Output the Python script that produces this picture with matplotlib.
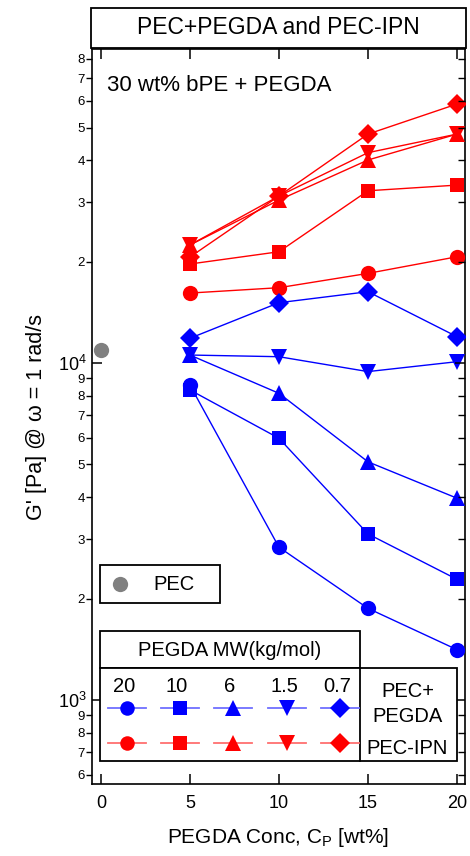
import matplotlib
matplotlib.use('Agg')
import matplotlib.pyplot as plt
from matplotlib import ticker
from matplotlib.lines import Line2D
from matplotlib.patches import Rectangle
import numpy as np

plt.rcParams['font.family'] = ['Liberation Sans', 'DejaVu Sans']
plt.rcParams['mathtext.fontset'] = 'custom'
plt.rcParams['mathtext.rm'] = 'Liberation Sans'
plt.rcParams['mathtext.it'] = 'Liberation Sans:italic'
plt.rcParams['mathtext.bf'] = 'Liberation Sans:bold'

# ---------------- data ----------------
conc = [5, 10, 15, 20]
mw_labels = ['20', '10', '6', '1.5', '0.7']
markers = ['o', 's', '^', 'v', 'D']
marker_sizes = [11, 10, 11.5, 11.5, 10.5]

# PEC+PEGDA (blue), one list per PEGDA MW
pegda_20 = [8600, 2840, 1870, 1410]
pegda_10 = [8320, 5980, 3110, 2280]
pegda_6 = [10560, 8130, 5090, 3970]
pegda_1p5 = [10560, 10440, 9430, 10090]
pegda_0p7 = [11840, 15100, 16280, 11970]

# PEC-IPN (red)
ipn_20 = [16130, 16730, 18450, 20670]
ipn_10 = [19670, 21390, 32450, 33730]
ipn_6 = [22400, 30450, 40040, 47800]
ipn_1p5 = [22400, 31300, 42100, 47800]
ipn_0p7 = [20630, 31300, 47800, 58700]

pec_conc = [0]
pec_G = [10930]

pegda_series = [pegda_20, pegda_10, pegda_6, pegda_1p5, pegda_0p7]
ipn_series = [ipn_20, ipn_10, ipn_6, ipn_1p5, ipn_0p7]

x_ticks = [0, 5, 10, 15, 20]

# ---------------- figure ----------------
W, H = 470, 856
fig = plt.figure(figsize=(W / 100, H / 100), dpi=100)


def fx(px):
    return px / W


def fy(py):
    return 1 - py / H


ax = fig.add_axes([fx(92), fy(784), fx(465) - fx(92), fy(49) - fy(784)])
ax.set_yscale('log')

blue = '#0000ff'
red = '#ff0000'

for vals, m, ms in zip(ipn_series, markers, marker_sizes):
    ax.plot(conc, vals, color=red, lw=1.0, marker=m, ms=ms,
            markeredgewidth=0, zorder=3)
for vals, m, ms in zip(pegda_series, markers, marker_sizes):
    ax.plot(conc, vals, color=blue, lw=1.0, marker=m, ms=ms,
            markeredgewidth=0, zorder=3)
ax.plot(pec_conc, pec_G, 'o', color='#808080', ms=11, markeredgewidth=0,
        zorder=4, clip_on=False)

ax.set_xlim(-0.5, 20.45)
ax.set_ylim(563, 85500)

for s in ax.spines.values():
    s.set_linewidth(1.2)

ax.set_xticks(x_ticks)
ax.tick_params(axis='x', which='major', direction='in', top=True, bottom=True,
               length=7, width=1.1, labelsize=13, pad=8)

ax.yaxis.set_major_locator(ticker.LogLocator(base=10, numticks=10))
ax.yaxis.set_minor_locator(ticker.LogLocator(base=10, subs=np.arange(2, 10), numticks=20))


def major_fmt(v, pos):
    e = int(round(np.log10(v)))
    return r'$10^{%d}$' % e


def minor_fmt(v, pos):
    e = np.floor(np.log10(v) + 1e-9)
    return '%d' % int(round(v / 10 ** e))


ax.yaxis.set_major_formatter(ticker.FuncFormatter(major_fmt))
ax.yaxis.set_minor_formatter(ticker.FuncFormatter(minor_fmt))
ax.tick_params(axis='y', which='major', direction='in', left=True, right=False,
               length=7, width=1.1, labelsize=13, pad=4)
ax.tick_params(axis='y', which='minor', direction='out', left=True, right=False,
               length=4, width=1.0, labelsize=9.5, pad=1)

axr = ax.twinx()
axr.set_yscale('log')
axr.set_ylim(ax.get_ylim())
axr.yaxis.set_major_locator(ticker.LogLocator(base=10, numticks=10))
axr.yaxis.set_minor_locator(ticker.LogLocator(base=10, subs=np.arange(2, 10), numticks=20))
axr.tick_params(axis='y', which='major', direction='in', length=7, width=1.1,
                labelright=False)
axr.tick_params(axis='y', which='minor', direction='in', length=5, width=1.0,
                labelright=False)
axr.yaxis.set_minor_formatter(ticker.NullFormatter())
for s in axr.spines.values():
    s.set_visible(False)

ax.set_xlabel('PEGDA Conc, C$_\\mathrm{P}$ [wt%]', fontsize=15, labelpad=10)
ax.set_ylabel("G' [Pa] @ \u03c9 = 1 rad/s", fontsize=15.5, labelpad=8)

ax.text(0.04, 0.965, '30 wt% bPE + PEGDA', transform=ax.transAxes,
        fontsize=16, ha='left', va='top')

# ---------------- title box ----------------
fig.add_artist(Rectangle((fx(91), fy(48)), fx(466) - fx(91), (48 - 8) / H,
                         transform=fig.transFigure, fill=False, lw=1.3,
                         edgecolor='black'))
fig.text(fx(278), fy(28), 'PEC+PEGDA and PEC-IPN', fontsize=16.5,
         ha='center', va='center')

# ---------------- PEC legend box ----------------
fig.add_artist(Rectangle((fx(100), fy(603)), fx(220) - fx(100), (603 - 565) / H,
                         transform=fig.transFigure, fill=True, facecolor='white',
                         lw=1.3, edgecolor='black', zorder=5))
fig.add_artist(Line2D([fx(120)], [fy(584)], marker='o', color='#808080', ms=11,
                      markeredgewidth=0, transform=fig.transFigure, zorder=6))
fig.text(fx(153), fy(585), 'PEC', fontsize=14.5, ha='left', va='center', zorder=6)

# ---------------- MW legend table ----------------
fig.add_artist(Rectangle((fx(100), fy(668)), fx(360) - fx(100), (668 - 631) / H,
                         transform=fig.transFigure, facecolor='white',
                         lw=1.3, edgecolor='black', zorder=5))
fig.text(fx(230), fy(650), 'PEGDA MW(kg/mol)', fontsize=14.5, ha='center',
         va='center', zorder=6)
fig.add_artist(Rectangle((fx(100), fy(761)), fx(457) - fx(100), (761 - 668) / H,
                         transform=fig.transFigure, facecolor='white',
                         lw=1.3, edgecolor='black', zorder=5))
fig.add_artist(Line2D([fx(360), fx(360)], [fy(668), fy(761)], color='black',
                      lw=1.3, transform=fig.transFigure, zorder=6))

col_x = [127, 180, 233, 287, 340]
for cx, lab, m, ms in zip(col_x, mw_labels, markers, marker_sizes):
    fig.text(fx(cx - 3), fy(686), lab, fontsize=14.5, ha='center', va='center',
             zorder=6)
    for ry, col, lcol in [(708, blue, '#6f6fff'), (743, red, '#ff7070')]:
        fig.add_artist(Line2D([fx(cx - 19), fx(cx + 19)], [fy(ry), fy(ry)],
                              color=lcol, lw=1.3, transform=fig.transFigure,
                              zorder=6))
        fig.add_artist(Line2D([fx(cx)], [fy(ry)], marker=m, color=col,
                              ms=ms * 0.95, markeredgewidth=0,
                              transform=fig.transFigure, zorder=7))

fig.text(fx(408), fy(704), 'PEC+\nPEGDA', fontsize=14.5, ha='center',
         va='center', linespacing=1.4, zorder=6)
fig.text(fx(407), fy(748), 'PEC-IPN', fontsize=14.5, ha='center',
         va='center', zorder=6)

fig.savefig('out.png', dpi=100)
